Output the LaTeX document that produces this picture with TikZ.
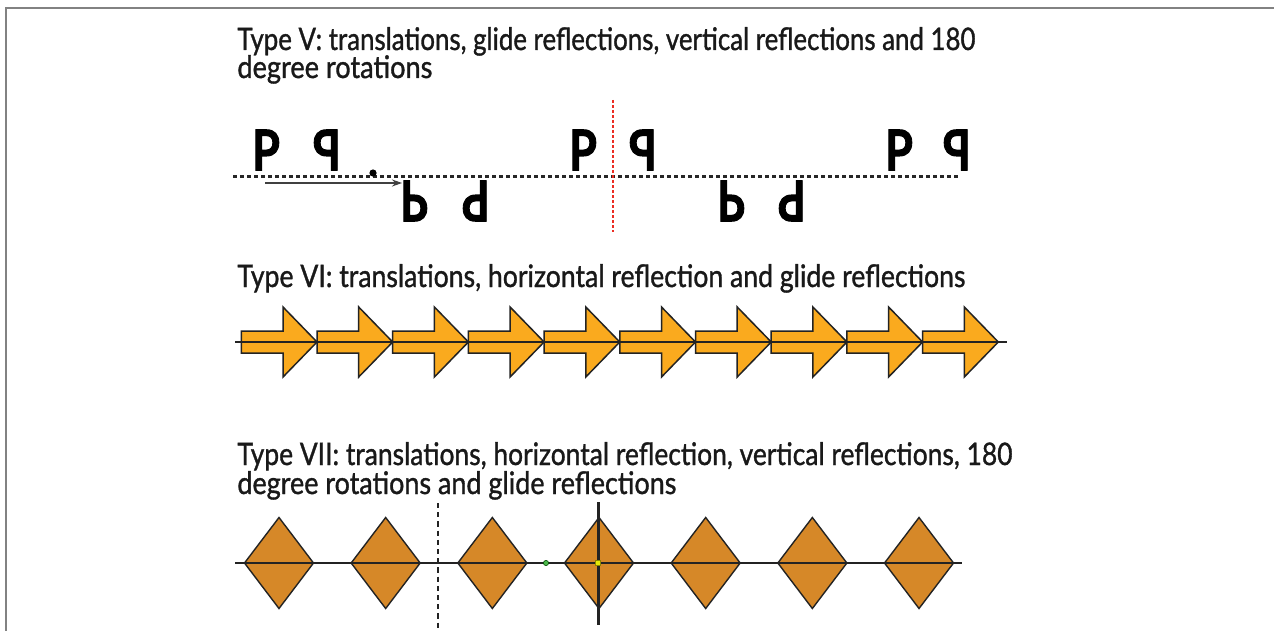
\documentclass[tikz,border=0pt]{standalone}
\usepackage{fontspec}
\setmainfont{Lato}
\newfontfamily\titlefont[FakeBold=1.2]{Lato}
\newfontfamily\letterfont[FakeBold=2]{Lato Bold}
\usepackage{graphicx}
\usetikzlibrary{arrows.meta}
\definecolor{arrowfill}{RGB}{250,170,30}
\definecolor{diafill}{RGB}{214,136,40}
\definecolor{edge}{RGB}{35,35,35}
\definecolor{framegray}{RGB}{130,130,130}
\definecolor{reddot}{RGB}{235,45,35}
\tikzset{
  title/.style={anchor=base west, inner sep=0pt, font=\titlefont\fontsize{15.5}{18}\selectfont, text=black!90},
  letter/.style={anchor=center, inner sep=0pt, font=\letterfont\fontsize{28}{28}\selectfont},
  arrowshape/.style={fill=arrowfill, draw=edge, line width=0.75pt, line join=miter},
  diashape/.style={fill=diafill, draw=edge, line width=0.7pt},
  axisline/.style={line width=1pt, draw=edge},
  dotline/.style={line width=1.5pt, dash pattern=on 2pt off 1.5pt, draw=black!85},
  reddotted/.style={line width=1.2pt, dash pattern=on 1.3pt off 1.2pt, draw=reddot},
  glidearrow/.style={line width=1pt, draw=black!75, -{Stealth[length=5pt,width=3.5pt]}},
  mirrordash/.style={line width=1.1pt, dash pattern=on 2.6pt off 2pt, draw=edge},
  mirrorsolid/.style={line width=1.5pt, draw=edge},
}
\begin{document}
\begin{tikzpicture}[x=0.5pt,y=-0.5pt]
\useasboundingbox (0,0) rectangle (1274,631);
\fill[white] (0,0) rectangle (1274,631);
\draw[framegray, line width=1.25pt] (6,631) -- (6,8) -- (1274,8);

% ---------- Type V ----------
\node[title] (t5a) at (237,50) {\resizebox{369pt}{\height}{Type V: translations, glide reflections, vertical reflections and 180}};
\node[title] (t5b) at (237,78) {\resizebox{97.5pt}{\height}{degree rotations}};

\draw[dotline] (233,176) coordinate (l5a) -- (960,176) coordinate (l5b);
\draw[reddotted] (613,100) coordinate (r5a) -- (613,232) coordinate (r5b);
\coordinate (g5a) at (265,183);
\coordinate (g5b) at (402,183);
\draw[glidearrow] (g5a) -- (g5b);
\fill[black] (373,173) circle (1.8pt);

\foreach \i/\x in {1/266, 2/583, 3/899} {
  \node[letter] (p\i) at (\x,150) {\scalebox{0.8}[1]{P}};
}
\foreach \i/\x in {1/327, 2/643, 3/957} {
  \node[letter] (q\i) at (\x,150) {\reflectbox{\scalebox{0.8}[1]{P}}};
}
\foreach \i/\x in {1/414, 2/731} {
  \node[letter] (b\i) at (\x,201) {\scalebox{0.8}[-1]{P}};
}
\foreach \i/\x in {1/476, 2/792} {
  \node[letter] (d\i) at (\x,201) {\rotatebox{180}{\scalebox{0.8}[1]{P}}};
}

% ---------- Type VI ----------
\node[title] (t6) at (237,287) {\resizebox{364pt}{\height}{Type VI: translations, horizontal reflection and glide reflections}};
\foreach \k in {0,...,9} {
  \pgfmathsetmacro{\T}{317+75.7*\k}
  \pgfmathsetmacro{\L}{\T-75.7}
  \pgfmathsetmacro{\B}{\T-34}
  \draw[arrowshape] (\L,331) -- (\B,331) -- (\B,307) -- (\T,342) -- (\B,377) -- (\B,353) -- (\L,353) -- cycle;
}
\draw[axisline] (235,342) coordinate (a6a) -- (1007,342) coordinate (a6b);

% ---------- Type VII ----------
\node[title] (t7a) at (237,465) {\resizebox{387.5pt}{\height}{Type VII: translations, horizontal reflection, vertical reflections, 180}};
\node[title] (t7b) at (237,494) {\resizebox{219.5pt}{\height}{degree rotations and glide reflections}};
\foreach \k in {0,...,6} {
  \pgfmathsetmacro{\C}{279+106.67*\k}
  \draw[diashape] (\C-34.5,563) -- (\C,517.5) -- (\C+34.5,563) -- (\C,608.5) -- cycle;
}
\draw[axisline] (235,563) coordinate (a7a) -- (962,563) coordinate (a7b);
\draw[mirrordash] (438,503) coordinate (m7a) -- (438,631) coordinate (m7b);
\draw[mirrorsolid] (598,502) coordinate (v7a) -- (598,625) coordinate (v7b);
\fill[yellow!90!green, draw=olive, line width=0.3pt] (595.5,560.5) rectangle (600.5,565.5);
\fill[green!60!black!70, draw=green!30!black, line width=0.3pt] (546,563) circle (1.3pt);
\end{tikzpicture}
\end{document}
